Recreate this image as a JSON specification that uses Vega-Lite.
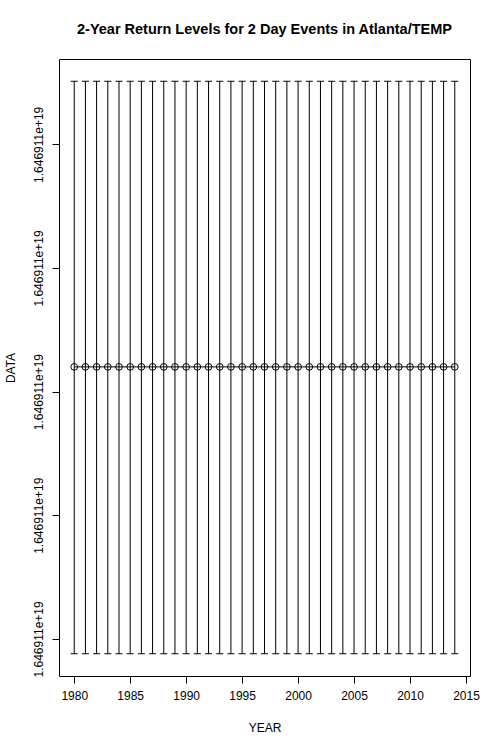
{
  "$schema": "https://vega.github.io/schema/vega-lite/v6.json",
  "width": 411,
  "height": 617,
  "autosize": {"type": "none"},
  "padding": {"left": 59, "top": 59, "right": 30, "bottom": 74},
  "background": "white",
  "config": {
    "font": "Liberation Sans",
    "view": {"stroke": "black", "strokeWidth": 1},
    "axis": {"grid": false, "domain": false, "tickColor": "black", "tickSize": 7, "tickWidth": 1, "labelColor": "black", "labelFontSize": 12, "labelFont": "Liberation Sans", "titleFont": "Liberation Sans", "titleFontSize": 12, "titleFontWeight": "normal", "titleColor": "black"}
  },
  "title": {"text": "2-Year Return Levels for 2 Day Events in Atlanta/TEMP", "fontSize": 14.5, "fontWeight": "bold", "font": "Liberation Sans", "anchor": "middle", "baseline": "alphabetic", "offset": 11, "color": "black"},
  "data": {"values": [
    {"year": 1980, "lower": 16469109999999975424, "value": 16469110000000450560, "upper": 16469110000000923648},
    {"year": 1981, "lower": 16469109999999975424, "value": 16469110000000450560, "upper": 16469110000000923648},
    {"year": 1982, "lower": 16469109999999975424, "value": 16469110000000450560, "upper": 16469110000000923648},
    {"year": 1983, "lower": 16469109999999975424, "value": 16469110000000450560, "upper": 16469110000000923648},
    {"year": 1984, "lower": 16469109999999975424, "value": 16469110000000450560, "upper": 16469110000000923648},
    {"year": 1985, "lower": 16469109999999975424, "value": 16469110000000450560, "upper": 16469110000000923648},
    {"year": 1986, "lower": 16469109999999975424, "value": 16469110000000450560, "upper": 16469110000000923648},
    {"year": 1987, "lower": 16469109999999975424, "value": 16469110000000450560, "upper": 16469110000000923648},
    {"year": 1988, "lower": 16469109999999975424, "value": 16469110000000450560, "upper": 16469110000000923648},
    {"year": 1989, "lower": 16469109999999975424, "value": 16469110000000450560, "upper": 16469110000000923648},
    {"year": 1990, "lower": 16469109999999975424, "value": 16469110000000450560, "upper": 16469110000000923648},
    {"year": 1991, "lower": 16469109999999975424, "value": 16469110000000450560, "upper": 16469110000000923648},
    {"year": 1992, "lower": 16469109999999975424, "value": 16469110000000450560, "upper": 16469110000000923648},
    {"year": 1993, "lower": 16469109999999975424, "value": 16469110000000450560, "upper": 16469110000000923648},
    {"year": 1994, "lower": 16469109999999975424, "value": 16469110000000450560, "upper": 16469110000000923648},
    {"year": 1995, "lower": 16469109999999975424, "value": 16469110000000450560, "upper": 16469110000000923648},
    {"year": 1996, "lower": 16469109999999975424, "value": 16469110000000450560, "upper": 16469110000000923648},
    {"year": 1997, "lower": 16469109999999975424, "value": 16469110000000450560, "upper": 16469110000000923648},
    {"year": 1998, "lower": 16469109999999975424, "value": 16469110000000450560, "upper": 16469110000000923648},
    {"year": 1999, "lower": 16469109999999975424, "value": 16469110000000450560, "upper": 16469110000000923648},
    {"year": 2000, "lower": 16469109999999975424, "value": 16469110000000450560, "upper": 16469110000000923648},
    {"year": 2001, "lower": 16469109999999975424, "value": 16469110000000450560, "upper": 16469110000000923648},
    {"year": 2002, "lower": 16469109999999975424, "value": 16469110000000450560, "upper": 16469110000000923648},
    {"year": 2003, "lower": 16469109999999975424, "value": 16469110000000450560, "upper": 16469110000000923648},
    {"year": 2004, "lower": 16469109999999975424, "value": 16469110000000450560, "upper": 16469110000000923648},
    {"year": 2005, "lower": 16469109999999975424, "value": 16469110000000450560, "upper": 16469110000000923648},
    {"year": 2006, "lower": 16469109999999975424, "value": 16469110000000450560, "upper": 16469110000000923648},
    {"year": 2007, "lower": 16469109999999975424, "value": 16469110000000450560, "upper": 16469110000000923648},
    {"year": 2008, "lower": 16469109999999975424, "value": 16469110000000450560, "upper": 16469110000000923648},
    {"year": 2009, "lower": 16469109999999975424, "value": 16469110000000450560, "upper": 16469110000000923648},
    {"year": 2010, "lower": 16469109999999975424, "value": 16469110000000450560, "upper": 16469110000000923648},
    {"year": 2011, "lower": 16469109999999975424, "value": 16469110000000450560, "upper": 16469110000000923648},
    {"year": 2012, "lower": 16469109999999975424, "value": 16469110000000450560, "upper": 16469110000000923648},
    {"year": 2013, "lower": 16469109999999975424, "value": 16469110000000450560, "upper": 16469110000000923648},
    {"year": 2014, "lower": 16469109999999975424, "value": 16469110000000450560, "upper": 16469110000000923648}
  ]},
  "encoding": {
    "x": {"field": "year", "type": "quantitative",
      "scale": {"domain": [1978.64, 2015.36], "nice": false, "zero": false},
      "axis": {"title": "YEAR", "values": [1980, 1985, 1990, 1995, 2000, 2005, 2010, 2015], "format": "d", "labelPadding": 7, "labelBaseline": "top", "labelAlign": "center", "titleY": 55, "titleX": 205.5, "titleAlign": "center", "titleBaseline": "alphabetic"}}
  },
  "layer": [
    {"mark": {"type": "rule", "color": "black", "strokeWidth": 1},
     "encoding": {
       "y": {"field": "lower", "type": "quantitative",
         "scale": {"domain": [16469109999999938560, 16469110000000960512], "nice": false, "zero": false},
         "axis": {"title": "DATA", "values": [16469110000000000000, 16469110000000204800, 16469110000000409600, 16469110000000614400, 16469110000000819200], "format": ".6e", "labelAngle": -90, "labelAlign": "center", "labelBaseline": "alphabetic", "labelPadding": 10, "titleAngle": -90, "titleX": -45, "titleY": 308.5, "titleAlign": "center", "titleBaseline": "alphabetic"}},
       "y2": {"field": "upper"}
     }},
    {"mark": {"type": "tick", "orient": "horizontal", "size": 7, "thickness": 1, "color": "black", "opacity": 1},
     "encoding": {"y": {"field": "lower", "type": "quantitative"}}},
    {"mark": {"type": "tick", "orient": "horizontal", "size": 7, "thickness": 1, "color": "black", "opacity": 1},
     "encoding": {"y": {"field": "upper", "type": "quantitative"}}},
    {"mark": {"type": "line", "color": "black", "strokeWidth": 1},
     "encoding": {"y": {"field": "value", "type": "quantitative"}}},
    {"mark": {"type": "point", "shape": "circle", "filled": false, "color": "black", "size": 45, "strokeWidth": 1, "opacity": 1},
     "encoding": {"y": {"field": "value", "type": "quantitative"}}}
  ]
}
